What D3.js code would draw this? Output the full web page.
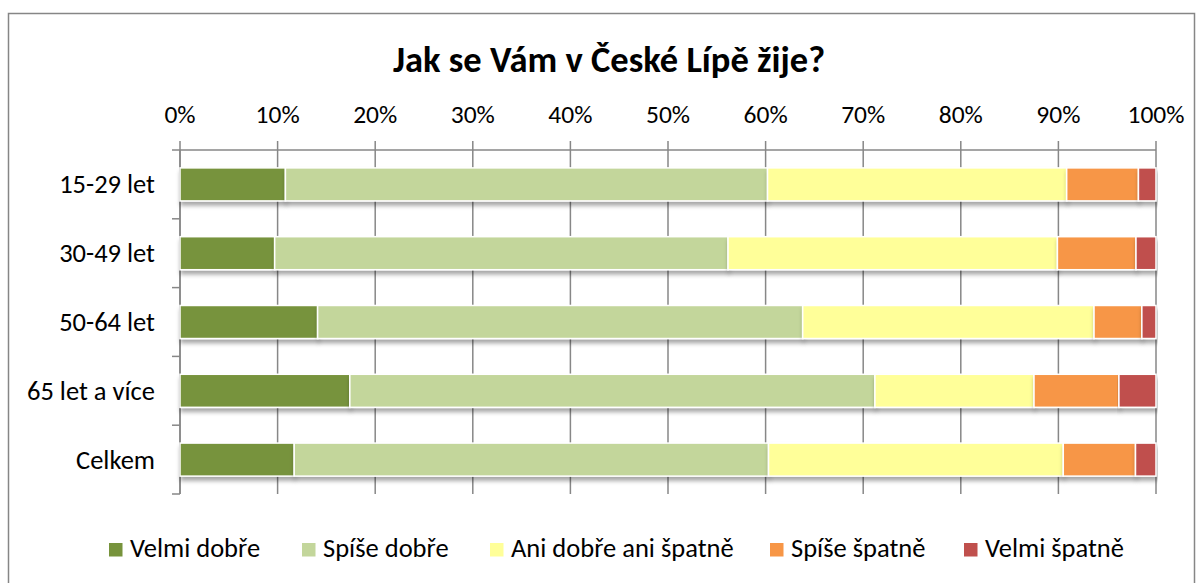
<!DOCTYPE html>
<html><head><meta charset="utf-8">
<script src="https://cdn.jsdelivr.net/npm/d3@7"></script>
<style>body{margin:0;background:#fff}svg{display:block}text{font-family:Carlito,Lato,"Open Sans",sans-serif;fill:#000}</style>
</head><body><svg id="c" width="1203" height="583"></svg>
<script>
const categories = ["15-29 let","30-49 let","50-64 let","65 let a více","Celkem"];
const seriesNames = ["Velmi dobře","Spíše dobře","Ani dobře ani špatně","Spíše špatně","Velmi špatně"];
const colors = ["#77933C","#C3D69B","#FFFF99","#F79646","#C0504D"];
const velmiDobre = [10.8, 9.7, 14.1, 17.4, 11.7];
const spiseDobre = [49.4, 46.45, 49.7, 53.8, 48.6];
const aniAni = [30.65, 33.75, 29.85, 16.3, 30.2];
const spiseSpatne = [7.35, 8.05, 4.9, 8.7, 7.4];
const velmiSpatne = [1.8, 2.05, 1.45, 3.8, 2.1];
const tickValues = [0,10,20,30,40,50,60,70,80,90,100];
const title = "Jak se Vám v České Lípě žije?";

const series = [velmiDobre, spiseDobre, aniAni, spiseSpatne, velmiSpatne];
const rows = categories.map((c,i)=>{const o={cat:c}; seriesNames.forEach((s,j)=>o[s]=series[j][i]); return o;});
const stacked = d3.stack().keys(seriesNames)(rows);

const svg = d3.select("#c");
const defs = svg.append("defs");
const f = defs.append("filter").attr("id","sh").attr("x","-5%").attr("y","-30%").attr("width","110%").attr("height","180%");
f.append("feDropShadow").attr("dx",1).attr("dy",4).attr("stdDeviation",2).attr("flood-color","#000").attr("flood-opacity",0.35);

svg.append("rect").attr("x",8.5).attr("y",13.5).attr("width",1186).attr("height",620).attr("fill","#fff").attr("stroke","#868686").attr("stroke-width",1.5);

const x = d3.scaleLinear().domain([0,100]).range([180,1156]);
const y = d3.scaleBand().domain(categories).range([150,494]).paddingInner(0.52).paddingOuter(0.26);
const yAxisBand = d3.scaleBand().domain(categories).range([150,494]);

svg.append("text").attr("x",609).attr("y",72).attr("text-anchor","middle").attr("font-size",36.5).attr("font-weight","bold").text(title);

// gridlines + top ticks
svg.append("g").selectAll("line").data(tickValues).join("line")
  .attr("x1",d=>x(d)).attr("x2",d=>x(d)).attr("y1",141).attr("y2",494)
  .attr("stroke","#878787").attr("stroke-width",1.5);
svg.append("line").attr("x1",180).attr("x2",1156).attr("y1",150).attr("y2",150).attr("stroke","#878787").attr("stroke-width",1.5);
svg.append("g").selectAll("text").data(tickValues).join("text")
  .attr("x",d=>x(d)).attr("y",123).attr("text-anchor","middle").attr("font-size",25.5).text(d=>d+"%");

// category axis
svg.append("line").attr("x1",180).attr("x2",180).attr("y1",150).attr("y2",494).attr("stroke","#878787").attr("stroke-width",1.5);
const bounds = categories.map(c=>yAxisBand(c)).concat([494]);
svg.append("g").selectAll("line").data(bounds).join("line")
  .attr("x1",172).attr("x2",180).attr("y1",d=>d).attr("y2",d=>d).attr("stroke","#878787").attr("stroke-width",1.5);
svg.append("g").selectAll("text").data(categories).join("text")
  .attr("x",155).attr("y",d=>y(d)+y.bandwidth()/2+9).attr("text-anchor","end").attr("font-size",26.5).text(d=>d);

// bars
const gb = svg.append("g");
stacked.forEach((s,j)=>{
  gb.append("g").attr("filter","url(#sh)").selectAll("rect").data(s).join("rect")
    .attr("x",d=>x(d[0])).attr("width",d=>x(d[1])-x(d[0]))
    .attr("y",d=>y(d.data.cat)).attr("height",y.bandwidth())
    .attr("fill",colors[j]).attr("stroke","#fff").attr("stroke-width",1.5);
});

// legend
const legX = [109,302,490,770,964];
const lg = svg.append("g");
seriesNames.forEach((s,j)=>{
  lg.append("rect").attr("x",legX[j]).attr("y",543).attr("width",13.5).attr("height",13.5).attr("fill",colors[j]);
  lg.append("text").attr("x",legX[j]+21).attr("y",557).attr("font-size",26.5).text(s);
});
</script></body></html>
